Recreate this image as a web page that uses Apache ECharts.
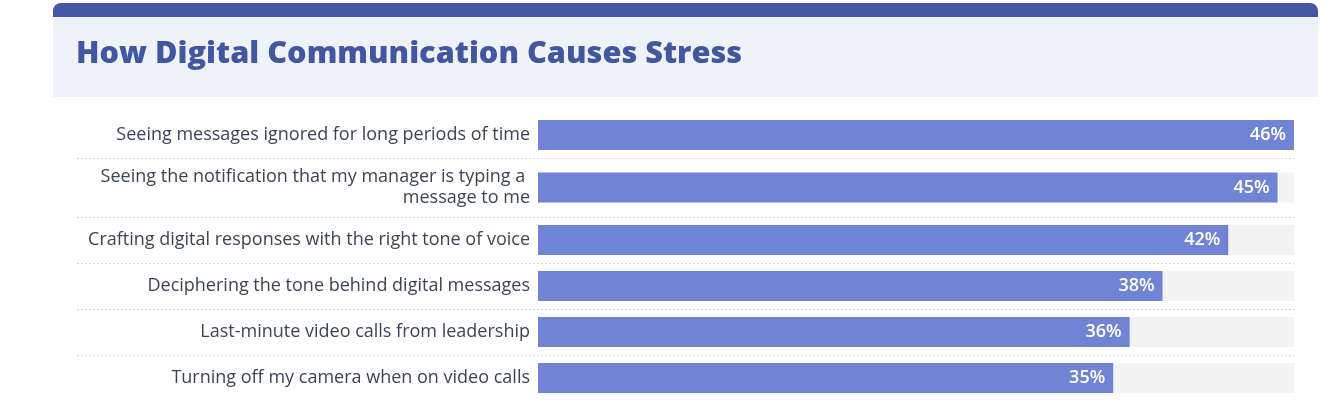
<!DOCTYPE html>
<html>
<head>
<meta charset="utf-8">
<script src="https://cdn.jsdelivr.net/npm/echarts@6/dist/echarts.min.js"></script>
<style>
html,body{margin:0;padding:0;background:#fff;}
#chart{width:1341px;height:407px;}
</style>
</head>
<body>
<div id="chart"></div>
<script>
// ---- data ----
const titleText = 'How Digital Communication Causes Stress';
const categories = [
  'Seeing messages ignored for long periods of time',
  'Seeing the notification that my manager is typing a message to me',
  'Crafting digital responses with the right tone of voice',
  'Deciphering the tone behind digital messages',
  'Last-minute video calls from leadership',
  'Turning off my camera when on video calls'
];
const values = [46, 45, 42, 38, 36, 35];
const axisMax = 46;

// ---- layout (not data) ----
const rowTop = [112, 158, 217, 263, 309, 355];
const rowHeight = [46, 59, 46, 46, 46, 46];
const plotLeft = 538, plotRight = 1294;
const labelFont = 'Open Sans';

const chart = echarts.init(document.getElementById('chart'), null, {renderer: 'canvas'});

const grids = [], xAxes = [], yAxes = [], series = [];
categories.forEach((c, i) => {
  grids.push({left: plotLeft, width: plotRight - plotLeft, top: rowTop[i], height: rowHeight[i], containLabel: false});
  xAxes.push({gridIndex: i, type: 'value', min: 0, max: axisMax, show: false});
  yAxes.push({
    gridIndex: i, type: 'category', data: [c],
    axisLine: {show: false}, axisTick: {show: false}, splitLine: {show: false},
    axisLabel: {
      margin: 8, width: 450, overflow: 'break', align: 'right',
      fontSize: 18, lineHeight: 21, color: '#3d4457', fontFamily: labelFont
    }
  });
  series.push({
    type: 'bar', xAxisIndex: i, yAxisIndex: i, data: [values[i]],
    barWidth: 30, silent: true,
    showBackground: true, backgroundStyle: {color: '#f3f3f3'},
    itemStyle: {color: '#7083d4'},
    label: {
      show: true, position: 'insideRight', distance: 8,
      formatter: p => p.value + '%',
      color: '#ffffff', fontSize: 18, fontWeight: 600, fontFamily: labelFont
    }
  });
});

const graphics = [
  {type: 'rect', shape: {x: 53, y: 3, width: 1265, height: 24, r: [8, 8, 0, 0]}, style: {fill: '#4457a0'}, z: -10},
  {type: 'rect', shape: {x: 53, y: 17, width: 1265, height: 80}, style: {fill: '#eff2f8'}, z: -9}
];
for (let i = 0; i < rowTop.length - 1; i++) {
  const y = rowTop[i] + rowHeight[i] + 0.5;
  graphics.push({type: 'line', shape: {x1: 77, y1: y, x2: plotRight, y2: y},
    style: {stroke: '#d6d6d6', lineWidth: 1, lineDash: [2, 2]}, z: -5});
}

chart.setOption({
  animation: false,
  title: {
    text: titleText, left: 76, top: 39, padding: 0,
    textStyle: {fontSize: 30.7, fontWeight: 800, color: '#4356a0', fontFamily: labelFont}
  },
  grid: grids, xAxis: xAxes, yAxis: yAxes, series: series,
  graphic: graphics
});
</script>
</body>
</html>
